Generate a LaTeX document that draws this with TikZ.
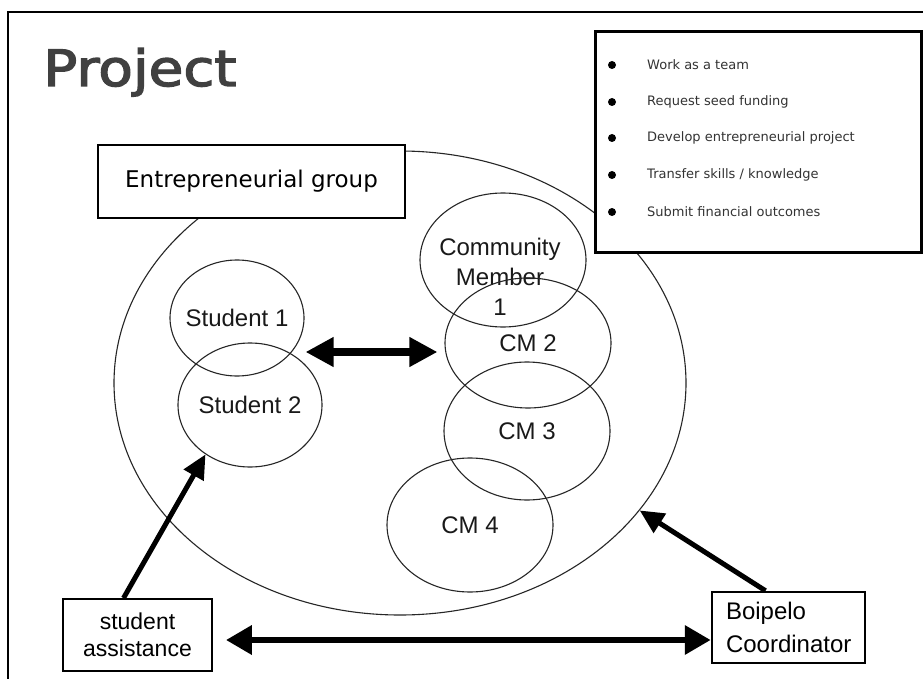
\documentclass[tikz,border=0pt]{standalone}
\usepackage{fontspec}
\setmainfont{Liberation Sans}
\newfontfamily\headfont{DejaVu Sans}
\newfontfamily\titlefont[FakeBold=2.5]{DejaVu Sans}
\usetikzlibrary{shapes.geometric,arrows.meta,calc}

\begin{document}
\begin{tikzpicture}[x=1pt,y=-1pt,
  oval/.style={draw=black!85,line width=1.1pt,ellipse,inner sep=0pt},
  lbl/.style={font=\fontsize{24}{30}\selectfont,inner sep=0pt,text=black!90},
  box/.style={draw=black,fill=white,inner sep=0pt},
  bigdbl/.style={line width=8pt,
    {Triangle[length=28pt,width=28pt]}-{Triangle[length=28pt,width=28pt]}},
  longdbl/.style={line width=6.5pt,
    {Triangle[length=26pt,width=28pt]}-{Triangle[length=26pt,width=28pt]}},
  pointer/.style={line width=5pt,-{Triangle[length=24pt,width=22pt]}},
  dot/.style={circle,fill=black,inner sep=0pt,minimum size=8pt},
  item/.style={anchor=west,inner sep=0pt,text=black!80,
    font=\headfont\fontsize{13}{15}\selectfont},
]
\useasboundingbox (0,0) rectangle (923,679);
\fill[white] (0,0) rectangle (923,679);

% page frame
\draw[line width=2.5pt] (8,679) -- (8,12) -- (923,12);

% title
\node[anchor=base west,inner sep=0pt,text=black!75,xscale=1.13] (title) at (43,86)
  {\titlefont\fontsize{50}{54}\selectfont Project};

% the group and its members
\node[oval,minimum width=572pt,minimum height=464pt] (group) at (400,383) {};
\node[oval,minimum width=134pt,minimum height=116pt,
  label={[lbl]center:Student 1}] (s1) at (237,318) {};
\node[oval,minimum width=144pt,minimum height=124pt,
  label={[lbl]center:Student 2}] (s2) at (250,405) {};
\node[oval,minimum width=166pt,minimum height=134pt] (cm1) at (503,260) {};
\node[lbl,align=center,font=\fontsize{24}{30}\selectfont] (cm1t) at (500,277)
  {Community\\Member\\1};
\node[oval,minimum width=166pt,minimum height=130pt,
  label={[lbl]center:CM 2}] (cm2) at (528,343) {};
\node[oval,minimum width=166pt,minimum height=138pt,
  label={[lbl]center:CM 3}] (cm3) at (527,431) {};
\node[oval,minimum width=166pt,minimum height=134pt,
  label={[lbl]center:CM 4}] (cm4) at (470,525) {};

% group label
\node[box,line width=2.5pt,minimum width=307pt,minimum height=73pt] (eg)
  at (251.5,181.5)
  {\headfont\fontsize{23}{28}\selectfont\raisebox{3pt}{Entrepreneurial group}};

% task list
\node[box,line width=3pt,minimum width=326pt,minimum height=220pt] (tasks)
  at (758,142) {};
\foreach \i/\yy/\txt in {1/65/{Work as a team},
    2/102/{Request seed funding},
    3/138/{Develop entrepreneurial project},
    4/175/{Transfer skills / knowledge},
    5/212/{Submit financial outcomes}}{
  \node[dot] (b\i) at (612,\yy) {};
  \node[item] (t\i) at (647,\yy) {\txt};
}

% support roles
\node[box,line width=1.8pt,minimum width=149pt,minimum height=72pt,
  align=center,font=\fontsize{23}{27}\selectfont] (sa) at (137.5,635)
  {student\\assistance};
\node[box,line width=2.5pt,minimum width=153pt,minimum height=71pt,
  inner xsep=14pt,text width=125pt,align=left,
  font=\fontsize{24}{33}\selectfont] (bc) at (788.5,627.5)
  {Boipelo\\Coordinator};

% connectors
\draw[bigdbl] ($(s1.east |- cm2.west)+(1,9)$) -- ($(cm2.west)+(-7,9)$);
\draw[longdbl] ($(sa.east)+(13,5)$) -- ($(bc.west |- sa.east)+(0,5)$);
\draw[pointer] ($(sa.north)+(-14,0)$) -- (s2.228);
\draw[pointer] ($(bc.north)+(-23,0)$) -- (group.-28);
\end{tikzpicture}
\end{document}
